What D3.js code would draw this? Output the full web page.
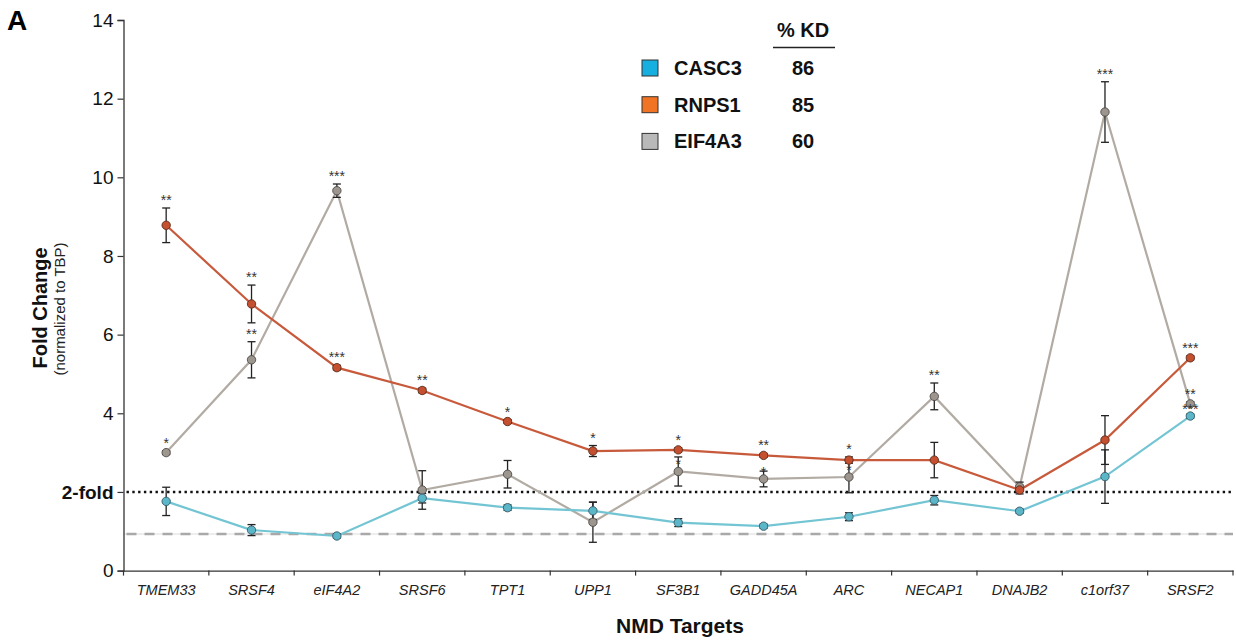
<!DOCTYPE html>
<html>
<head>
<meta charset="utf-8">
<script src="https://cdn.jsdelivr.net/npm/d3@7"></script>
<style>
  html, body { margin: 0; padding: 0; background: #fff; }
  svg { display: block; font-family: "Liberation Sans", Arial, sans-serif; }
</style>
</head>
<body>
<svg id="chart" width="1236" height="640"></svg>
<script>
// NMD targets measured after knockdown of each EJC factor
const categories = ["TMEM33", "SRSF4", "eIF4A2", "SRSF6", "TPT1", "UPP1", "SF3B1",
                    "GADD45A", "ARC", "NECAP1", "DNAJB2", "c1orf37", "SRSF2"];

// Fold change (normalized to TBP), mean and error
const casc3     = [1.76, 1.03, 0.88, 1.84, 1.60, 1.52, 1.22, 1.13, 1.37, 1.79, 1.51, 2.39, 3.93];
const casc3Err  = [0.36, 0.14, 0.05, 0.12, 0.07, 0.22, 0.10, 0.05, 0.10, 0.12, 0.05, 0.68, 0.05];
const rnps1     = [8.78, 6.78, 5.16, 4.58, 3.79, 3.04, 3.07, 2.93, 2.81, 2.81, 2.05, 3.32, 5.41];
const rnps1Err  = [0.44, 0.48, 0.06, 0.06, 0.05, 0.14, 0.05, 0.05, 0.08, 0.45, 0.10, 0.62, 0.05];
const eif4a3    = [3.00, 5.36, 9.66, 2.05, 2.45, 1.23, 2.52, 2.33, 2.38, 4.43, 2.13, 11.66, 4.24];
const eif4a3Err = [0.05, 0.46, 0.17, 0.49, 0.35, 0.51, 0.37, 0.20, 0.40, 0.34, 0.12, 0.77, 0.05];

// Significance marks
const casc3Sig  = ["", "", "", "", "", "", "", "", "", "", "", "", "***"];
const rnps1Sig  = ["**", "**", "***", "**", "*", "*", "*", "**", "*", "", "", "", "***"];
const eif4a3Sig = ["*", "**", "***", "", "", "", "*", "*", "*", "**", "", "***", "**"];

// Knockdown efficiency
const kdNames = ["CASC3", "RNPS1", "EIF4A3"];
const kdPercent = [86, 85, 60];

const yTicks = [0, 2, 4, 6, 8, 10, 12, 14];
const twoFold = 2;
const baseline = 0.93;

const series = [
  { name: "EIF4A3", values: eif4a3, err: eif4a3Err, sig: eif4a3Sig,
    line: "#b2aba3", fill: "#9c968f", stroke: "#4d4a46" },
  { name: "RNPS1", values: rnps1, err: rnps1Err, sig: rnps1Sig,
    line: "#c85a3c", fill: "#c4502f", stroke: "#5b2c1e" },
  { name: "CASC3", values: casc3, err: casc3Err, sig: casc3Sig,
    line: "#73c5d3", fill: "#5bb7c8", stroke: "#35596a" }
];

const svg = d3.select("#chart");
const x0 = 123.5, x1 = 1233, yTop = 20, yBottom = 570.6;

const x = d3.scaleBand().domain(categories).range([x0, x1]).padding(0);
const y = d3.scaleLinear().domain([0, 14]).range([yBottom, yTop]);
const cx = c => x(c) + x.bandwidth() / 2;

// Reference lines
svg.append("line")
  .attr("x1", x0).attr("x2", x1).attr("y1", y(baseline)).attr("y2", y(baseline))
  .attr("stroke", "#dcdcdc").attr("stroke-width", 1);
svg.append("line")
  .attr("x1", x0 + 3).attr("x2", x1).attr("y1", y(baseline)).attr("y2", y(baseline))
  .attr("stroke", "#a9a9a9").attr("stroke-width", 2.6).attr("stroke-dasharray", "10,8");
svg.append("line")
  .attr("x1", x0 + 3).attr("x2", x1).attr("y1", y(twoFold)).attr("y2", y(twoFold))
  .attr("stroke", "#111").attr("stroke-width", 2.6).attr("stroke-dasharray", "2.4,3.4");

// Y axis
const yAxis = svg.append("g")
  .attr("transform", `translate(${x0},0)`)
  .call(d3.axisLeft(y).tickValues(yTicks).tickSize(6).tickPadding(4)
    .tickFormat(d => d === twoFold ? "2-fold" : d));
yAxis.select(".domain").attr("stroke", "#333").attr("stroke-width", 1.3);
yAxis.selectAll(".tick line").attr("stroke", "#333").attr("stroke-width", 1.2);
yAxis.selectAll(".tick text")
  .attr("font-size", 19).attr("fill", "#111")
  .attr("font-weight", d => d === twoFold ? "bold" : "normal");

// X axis with ticks between categories
const xAxis = svg.append("g")
  .attr("transform", `translate(0,${yBottom})`)
  .call(d3.axisBottom(x).tickSize(0).tickPadding(0));
xAxis.select(".domain").attr("stroke", "#333").attr("stroke-width", 1.3);
xAxis.selectAll(".tick text")
  .attr("font-size", 14.5).attr("font-style", "italic").attr("fill", "#222")
  .attr("dy", 0).attr("y", 24.5);
const bounds = categories.map(c => x(c)).concat([x1]);
svg.append("g").selectAll("line").data(bounds).join("line")
  .attr("x1", d => d).attr("x2", d => d)
  .attr("y1", yBottom).attr("y2", yBottom + 5)
  .attr("stroke", "#333").attr("stroke-width", 1.2);

// Lines
const lineGen = d3.line().x((d, i) => cx(categories[i])).y(d => y(d));
series.forEach(s => {
  svg.append("path").datum(s.values)
    .attr("d", lineGen).attr("fill", "none")
    .attr("stroke", s.line).attr("stroke-width", 2.2);
});

// Error bars
series.forEach(s => {
  const g = svg.append("g").attr("stroke", "#222").attr("stroke-width", 1.3);
  s.values.forEach((v, i) => {
    const px = cx(categories[i]);
    const hi = y(v + s.err[i]), lo = y(v - s.err[i]);
    g.append("line").attr("x1", px).attr("x2", px).attr("y1", hi).attr("y2", lo);
    g.append("line").attr("x1", px - 4).attr("x2", px + 4).attr("y1", hi).attr("y2", hi);
    g.append("line").attr("x1", px - 4).attr("x2", px + 4).attr("y1", lo).attr("y2", lo);
  });
});

// Points
series.forEach(s => {
  svg.append("g").selectAll("circle").data(s.values).join("circle")
    .attr("cx", (d, i) => cx(categories[i])).attr("cy", d => y(d)).attr("r", 4.2)
    .attr("fill", s.fill).attr("stroke", s.stroke).attr("stroke-width", 0.9);
});

// Significance stars: above the error bar, or tucked just over the point
// when that spot would sit on another series' marker
const starSize = 14;
function starBaseline(s, i) {
  const above = y(s.values[i] + s.err[i]) - 3;
  const centre = above - 0.58 * starSize;
  const clash = series.some(o => o !== s && Math.abs(y(o.values[i]) - centre) < 12);
  return clash ? y(s.values[i]) - 2 : above;
}
series.forEach(s => {
  svg.append("g").selectAll("text").data(s.values).join("text")
    .attr("x", (d, i) => cx(categories[i]))
    .attr("y", (d, i) => starBaseline(s, i))
    .attr("text-anchor", "middle").attr("font-size", starSize).attr("fill", "#333")
    .text((d, i) => s.sig[i]);
});

// Axis titles
svg.append("text")
  .attr("transform", "translate(47,308) rotate(-90)")
  .attr("text-anchor", "middle").attr("font-size", 20).attr("font-weight", "bold").attr("fill", "#111")
  .text("Fold Change");
svg.append("text")
  .attr("transform", "translate(65,309) rotate(-90)")
  .attr("text-anchor", "middle").attr("font-size", 15).attr("fill", "#222")
  .text("(normalized to TBP)");
svg.append("text")
  .attr("x", 680).attr("y", 633)
  .attr("text-anchor", "middle").attr("font-size", 21).attr("font-weight", "bold").attr("fill", "#111")
  .text("NMD Targets");

// Panel letter
svg.append("text")
  .attr("x", 7).attr("y", 30)
  .attr("font-size", 28).attr("font-weight", "bold").attr("fill", "#000")
  .text("A");

// Legend with knockdown percentages
const legend = svg.append("g");
legend.append("text")
  .attr("x", 803).attr("y", 37).attr("text-anchor", "middle")
  .attr("font-size", 20).attr("font-weight", "bold").attr("fill", "#111").text("% KD");
legend.append("line")
  .attr("x1", 773).attr("x2", 835).attr("y1", 47.5).attr("y2", 47.5)
  .attr("stroke", "#222").attr("stroke-width", 1.4);
const keyColors = { CASC3: "#17aee0", RNPS1: "#f07424", EIF4A3: "#b9b9b9" };
kdNames.forEach((n, i) => {
  const by = 75 + i * 36.7;
  legend.append("rect")
    .attr("x", 642).attr("y", by - 15).attr("width", 16).attr("height", 16)
    .attr("fill", keyColors[n]).attr("stroke", "#333").attr("stroke-width", 1);
  legend.append("text")
    .attr("x", 674).attr("y", by).attr("font-size", 20).attr("font-weight", "bold")
    .attr("fill", "#111").text(n);
  legend.append("text")
    .attr("x", 803).attr("y", by).attr("text-anchor", "middle").attr("font-size", 20)
    .attr("font-weight", "bold").attr("fill", "#111").text(kdPercent[i]);
});
</script>
</body>
</html>
